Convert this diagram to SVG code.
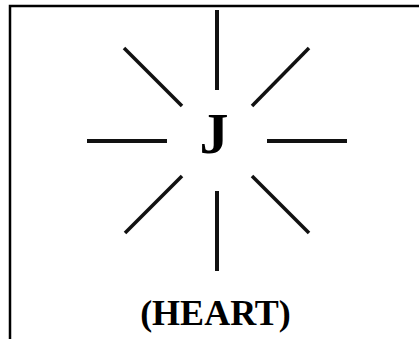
<svg xmlns="http://www.w3.org/2000/svg" width="419" height="339" viewBox="0 0 419 339">
<style>
.frame{stroke:#000;stroke-width:2.5;fill:none}
.ray{stroke:#111;stroke-linecap:butt}
.v{stroke-width:4}
.d{stroke-width:3.5}
.t{font-family:"Liberation Serif","Times New Roman",serif;font-weight:bold;fill:#000;text-anchor:middle}
</style>
<rect width="419" height="339" fill="#fff"/>
<path class="frame" d="M10 339 V6 H419"/>
<g id="center">
<text class="t" x="214" y="153" font-size="58">J</text>
</g>
<g id="label">
<text class="t" x="215.5" y="325" font-size="36">(HEART)</text>
</g>
<g id="rays">
<line class="ray v" x1="217" y1="10" x2="217" y2="90"/>
<line class="ray v" x1="217" y1="191" x2="217" y2="271"/>
<line class="ray v" x1="87" y1="141" x2="167" y2="141"/>
<line class="ray v" x1="267" y1="141" x2="347" y2="141"/>
<line class="ray d" x1="124" y1="48" x2="182" y2="106"/>
<line class="ray d" x1="309" y1="48" x2="252" y2="106"/>
<line class="ray d" x1="182" y1="176" x2="125" y2="233"/>
<line class="ray d" x1="252" y1="176" x2="309" y2="233"/>
</g>
</svg>
